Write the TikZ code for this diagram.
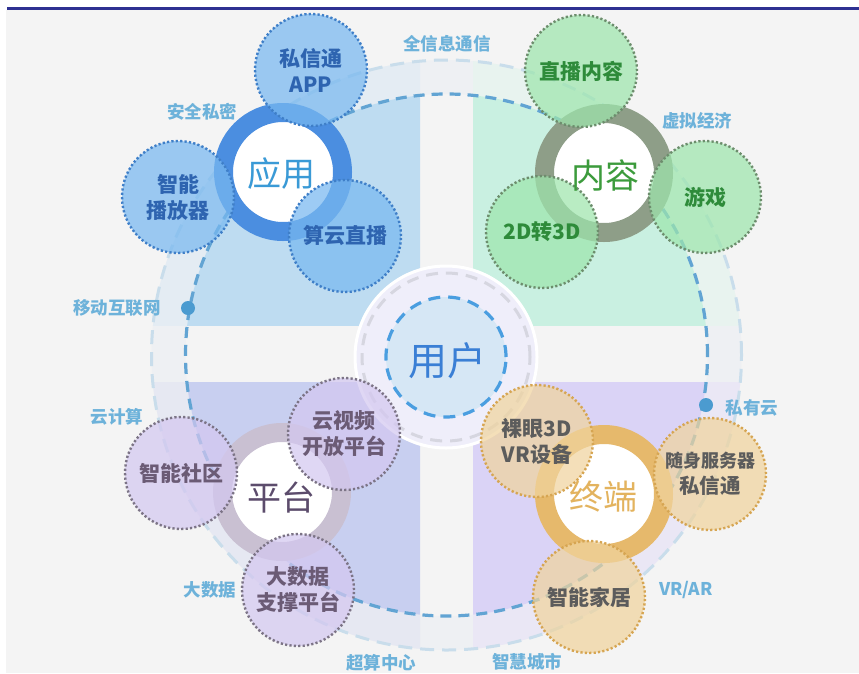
\documentclass[tikz,border=0pt]{standalone}
\usepackage{fontspec}
\setmainfont{Noto Sans CJK SC}
\definecolor{bgray}{HTML}{F4F4F4}
\definecolor{navy}{HTML}{2E3192}
\definecolor{annu}{HTML}{EEF0F3}
\definecolor{tlA}{HTML}{E4ECF3}
\definecolor{tlI}{HTML}{BEDCF1}
\definecolor{trA}{HTML}{E8F3EF}
\definecolor{trI}{HTML}{C9F0E1}
\definecolor{blA}{HTML}{E6E8F2}
\definecolor{blI}{HTML}{C8CFF0}
\definecolor{brA}{HTML}{EAE7F5}
\definecolor{brI}{HTML}{DAD3F6}
\definecolor{ringIn}{HTML}{62A4D3}
\definecolor{ringOut}{HTML}{C9DDEB}
\definecolor{lblc}{HTML}{6DB2DA}
\definecolor{dotc}{HTML}{4B9BD0}
\definecolor{cenA}{HTML}{EFEEFA}
\definecolor{cenB}{HTML}{D6E7F5}
\definecolor{cenDash}{HTML}{D6D6E0}
\definecolor{cenBlue}{HTML}{4A9EE0}
\definecolor{userc}{HTML}{3A7FD5}
% blue group
\definecolor{bRing}{HTML}{4B8EE0}
\definecolor{bSat}{HTML}{78B8F0}
\definecolor{bBord}{HTML}{3F7FC8}
\definecolor{bTxt}{HTML}{2E64B0}
\definecolor{bHub}{HTML}{3A9AD6}
% green group
\definecolor{gRing}{HTML}{8E9E88}
\definecolor{gSat}{HTML}{9EE6AD}
\definecolor{gBord}{HTML}{6D8D6D}
\definecolor{gTxt}{HTML}{2E8B3A}
\definecolor{gHub}{HTML}{3C9B3C}
% purple group
\definecolor{pRing}{HTML}{C9C0D2}
\definecolor{pSat}{HTML}{D4C8F0}
\definecolor{pBord}{HTML}{7C7486}
\definecolor{pTxt}{HTML}{6B5B75}
\definecolor{pHub}{HTML}{5C4C6C}
% gold group
\definecolor{oRing}{HTML}{E6B96C}
\definecolor{oSat}{HTML}{F0D49E}
\definecolor{oBord}{HTML}{D6A552}
\definecolor{oTxt}{HTML}{5C5C5C}
\definecolor{oHub}{HTML}{E3B35E}
\newcommand\satfont{\fontsize{21}{26}\selectfont\bfseries}
\newcommand\hubfont{\fontsize{34}{40}\selectfont}
\newcommand\lblfont{\fontsize{17.5}{21}\selectfont\bfseries}
\tikzset{
  sat/.style={circle, inner sep=0pt, minimum size=112pt, line width=2.4pt,
    dash pattern=on 2.2pt off 2.2pt, fill opacity=0.72, draw opacity=1,
    text opacity=1, align=center, font=\satfont},
  hub/.style={circle, inner sep=0pt, minimum size=119pt, line width=19pt, fill=white},
  hubtxt/.style={inner sep=0pt, font=\hubfont},
  lbl/.style={inner sep=0pt, text=lblc, font=\lblfont},
  ringdot/.style={circle, inner sep=0pt, minimum size=14pt, fill=dotc},
}
\begin{document}
\begin{tikzpicture}[x=1pt,y=-1pt]
\useasboundingbox (0,0) rectangle (859,673);
\fill[white] (0,0) rectangle (859,673);
\fill[bgray] (6,10) rectangle (859,673);
\fill[navy] (7,6.8) rectangle (859,9.8);
\coordinate (C) at (446.5,355);
% outer annulus
\fill[annu, even odd rule] (C) circle (295pt) (C) circle (261pt);
% quadrants
\begin{scope}
  \clip (0,0) rectangle (420,325);
  \fill[tlA, even odd rule] (C) circle (295pt) (C) circle (261pt);
  \fill[tlI] (C) circle (261pt);
\end{scope}
\begin{scope}
  \clip (473,0) rectangle (859,325);
  \fill[trA, even odd rule] (C) circle (295pt) (C) circle (261pt);
  \fill[trI] (C) circle (261pt);
\end{scope}
\begin{scope}
  \clip (0,382) rectangle (420,673);
  \fill[blA, even odd rule] (C) circle (295pt) (C) circle (261pt);
  \fill[blI] (C) circle (261pt);
\end{scope}
\begin{scope}
  \clip (473,382) rectangle (859,673);
  \fill[brA, even odd rule] (C) circle (295pt) (C) circle (261pt);
  \fill[brI] (C) circle (261pt);
\end{scope}
% dashed rings
\draw[ringOut, line width=3pt, dash pattern=on 14pt off 8pt] (C) circle (295pt);
\draw[ringIn, line width=3.2pt, dash pattern=on 11pt off 7pt] (C) circle (261pt);
\node[ringdot] (dotL) at (188,308) {};
\node[ringdot] (dotR) at (706,405) {};
% centre
\node[circle, inner sep=0pt, minimum size=182pt, fill=cenA, draw=white, line width=3pt] (cenOuter) at (446,357) {};
\draw[cenDash, line width=3pt, dash pattern=on 12pt off 8pt] (cenOuter.center) circle (84pt);
\node[circle, inner sep=0pt, minimum size=120pt, fill=cenB, draw=cenBlue, line width=3.2pt, dash pattern=on 12pt off 8pt] (cenInner) at (446,357) {};
\node[inner sep=0pt, text=userc, font=\fontsize{39}{44}\selectfont] (user) at (447,361) {用户};
% hubs
\node[hub, draw=bRing] (hubA) at (283,172) {};
\node[hub, draw=gRing] (hubB) at (604,173) {};
\node[hub, draw=pRing] (hubC) at (282,492) {};
\node[hub, draw=oRing] (hubD) at (604,494) {};
% satellites blue
\node[sat, fill=bSat, draw=bBord, text=bTxt] (a1) at (311,70) {私信通\\APP};
\node[sat, fill=bSat, draw=bBord, text=bTxt] (a2) at (178,197) {智能\\播放器};
\node[sat, fill=bSat, draw=bBord, text=bTxt] (a3) at (345,236) {算云直播};
% satellites green
\node[sat, fill=gSat, draw=gBord, text=gTxt] (b1) at (581,71) {直播内容};
\node[sat, fill=gSat, draw=gBord, text=gTxt] (b2) at (705,197) {游戏};
\node[sat, fill=gSat, draw=gBord, text=gTxt] (b3) at (542,232) {2D转3D};
% satellites purple
\node[sat, fill=pSat, draw=pBord, text=pTxt] (c1) at (181,473) {智能社区};
\node[sat, fill=pSat, draw=pBord, text=pTxt] (c2) at (344,434) {云视频\\开放平台};
\node[sat, fill=pSat, draw=pBord, text=pTxt] (c3) at (298,590) {大数据\\支撑平台};
% satellites gold
\node[sat, fill=oSat, draw=oBord, text=oTxt] (d1) at (537,441) {裸眼3D\\VR设备};
\node[sat, fill=oSat, draw=oBord, text=oTxt] (d2) at (710,474) {{\fontsize{18}{24}\selectfont 随身服务器}\\{\fontsize{20.5}{26}\selectfont 私信通}};
\node[sat, fill=oSat, draw=oBord, text=oTxt] (d3) at (589,597) {智能家居};
% hub texts
\node[hubtxt, text=bHub] (tA) at (281,174) {应用};
\node[hubtxt, text=gHub] (tB) at (605,175) {内容};
\node[hubtxt, text=pHub] (tC) at (281,497) {平台};
\node[hubtxt, text=oHub] (tD) at (603,497) {终端};
% outer labels
\node[lbl] (l1) at (447,44) {全信息通信};
\node[lbl] (l2) at (202,112) {安全私密};
\node[lbl] (l3) at (697,121) {虚拟经济};
\node[lbl] (l4) at (117,308) {移动互联网};
\node[lbl] (l5) at (117,417) {云计算};
\node[lbl] (l6) at (752,408) {私有云};
\node[lbl] (l7) at (210,590) {大数据};
\node[lbl] (l8) at (686,590) {VR/AR};
\node[lbl] (l9) at (381,663) {超算中心};
\node[lbl] (l10) at (527,662) {智慧城市};
\end{tikzpicture}
\end{document}
